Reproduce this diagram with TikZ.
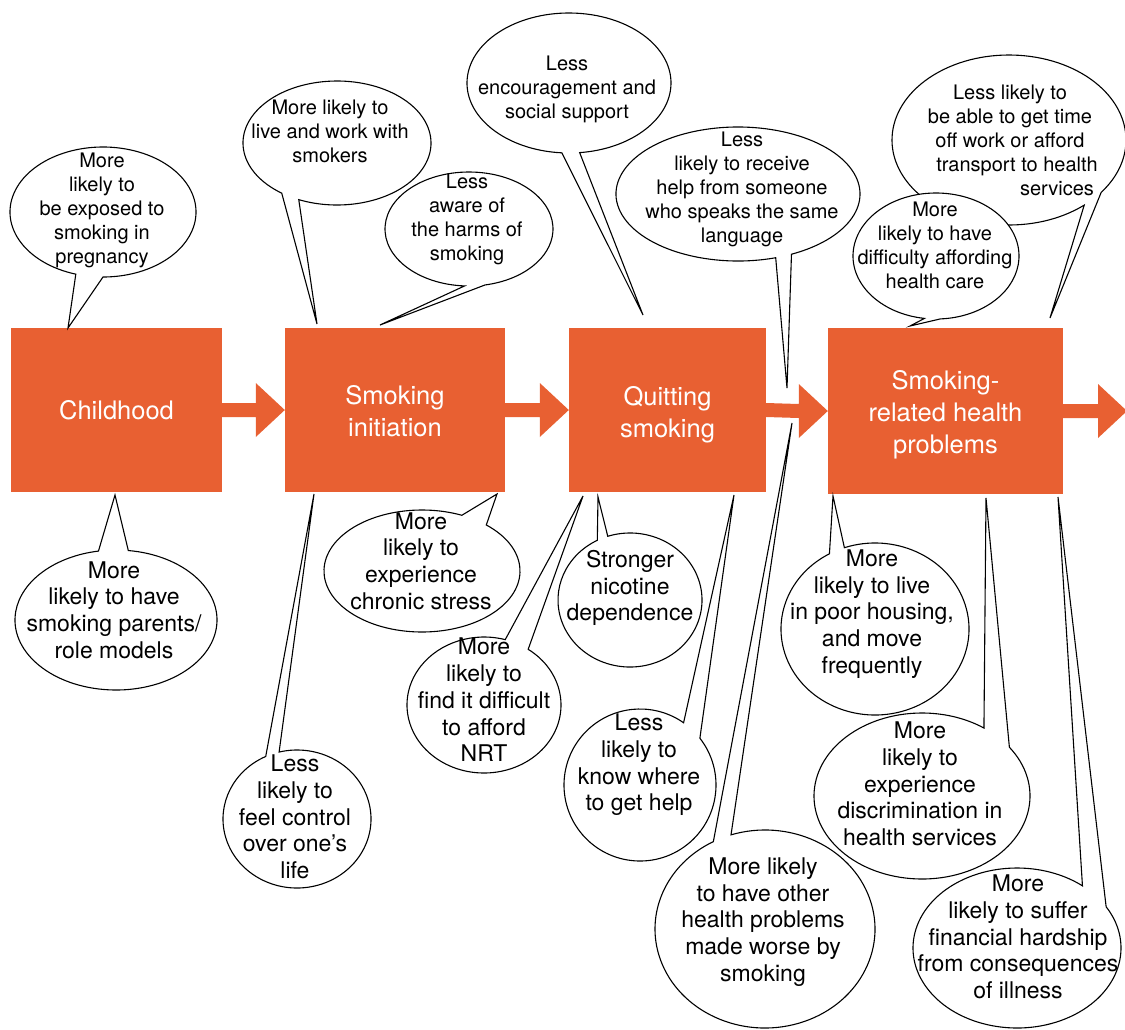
\documentclass[tikz,border=0pt]{standalone}
\usepackage{fontspec}
\setmainfont{TeX Gyre Heros}
\usetikzlibrary{calc}
\definecolor{org}{RGB}{232,96,50}
\tikzset{
  box/.style={fill=org, draw=none, inner sep=0pt},
  boxtxt/.style={text=white, align=center, inner sep=0pt, font=\fontsize{25.5}{32}\selectfont},
  bubble/.style={draw=black, fill=white, line width=1.1pt, line join=miter},
  stxt/.style={align=center, inner sep=0pt, font=\fontsize{20}{24}\selectfont},
  ltxt/.style={align=center, inner sep=0pt, font=\fontsize{23}{26.7}\selectfont},
  flow/.style={fill=org, draw=none}
}
% #1 tip coordinate, #2 cx, #3 cy, #4 rx, #5 ry, #6 first base angle, #7 second base angle
\newcommand\bubbleshape[7]{%
  \filldraw[bubble] ($(#2,#3)+(#6:#4 and #5)$) -- (#1) -- ($(#2,#3)+(#7:#4 and #5)$)
    arc[start angle=#7, end angle={#6+360}, x radius=#4, y radius=#5] -- cycle;}
% #1 source node, #2 target point
\newcommand\flowarrow[2]{%
  \fill[flow] ($(#1.east)+(0,-7)$) -- ($(#2)+(-29,-7)$) -- ($(#2)+(-29,-27)$) -- (#2)
    -- ($(#2)+(-29,27)$) -- ($(#2)+(-29,7)$) -- ($(#1.east)+(0,7)$) -- cycle;}
\begin{document}
\begin{tikzpicture}[x=1pt,y=-1pt]
\useasboundingbox (0,0) rectangle (1125,1029);
\fill[white] (0,0) rectangle (1125,1029);

% stage boxes
\node[box, minimum width=211pt, minimum height=164pt] (child) at (116.5,410) {};
\node[box, minimum width=220pt, minimum height=164pt] (init) at (395,410) {};
\node[box, minimum width=197pt, minimum height=164pt] (quit) at (667.5,410) {};
\node[box, minimum width=235pt, minimum height=166pt] (health) at (945.5,411) {};
\node[boxtxt] (childtxt) at (116.5,410) {Childhood};
\node[boxtxt] (inittxt) at (395,411) {Smoking\\initiation};
\node[boxtxt] (quittxt) at (667.5,415) {Quitting\\smoking};
\node[boxtxt] (healthtxt) at (945.5,415) {Smoking-\\related health\\problems};
\coordinate (out) at (1127,411);

\flowarrow{child}{init.west}
\flowarrow{init}{quit.west}
\flowarrow{quit}{health.west}
\flowarrow{health}{out}

% tail tips
\coordinate (p1) at (68,328);
\coordinate (p2) at (115,495);
\coordinate (p3) at (317,324);
\coordinate (p4) at (380,325);
\coordinate (p5) at (497,494);
\coordinate (p6) at (314,494);
\coordinate (p7) at (643,315);
\coordinate (p8) at (787,388);
\coordinate (p9) at (583,496);
\coordinate (p10) at (598,497);
\coordinate (p11) at (734,495);
\coordinate (p12) at (792,423);
\coordinate (p13) at (1050,318);
\coordinate (p14) at (910,326);
\coordinate (p15) at (833,496);
\coordinate (p16) at (986,498);
\coordinate (p17) at (1058,497);

% bubbles
\bubbleshape{p1}{103}{212}{93}{65}{90}{107}
\bubbleshape{p2}{116}{620}{101}{70}{260}{277}
\bubbleshape{p3}{337}{143}{94}{62}{114}{126}
\bubbleshape{p4}{469}{229}{84}{57}{79}{93}
\bubbleshape{p5}{422}{571}{98}{61}{294}{311}
\bubbleshape{p6}{297}{819}{74}{69}{245}{256}
\bubbleshape{p7}{569}{83}{102}{70}{84}{94}
\bubbleshape{p8}{738}{194}{122}{67}{64}{72}
\bubbleshape{p13}{1009}{140}{117}{85}{38}{50}
\bubbleshape{p14}{936}{256}{83}{63}{87}{98}
\bubbleshape{p9}{484}{705}{77}{68}{286}{305}
\bubbleshape{p10}{630}{600}{72}{67}{243}{252}
\bubbleshape{p11}{640}{785}{76}{76}{305}{322}
\bubbleshape{p12}{765}{929}{110}{99}{242}{252}
\bubbleshape{p15}{875}{629}{94}{86}{241}{251}
\bubbleshape{p16}{922}{796}{108}{83}{305}{324}
\bubbleshape{p17}{1017}{948}{104}{80}{309}{329}

% bubble texts
\node[stxt] (t1) at (102,210) {More\\likely to\\be exposed to\\smoking in\\pregnancy};
\node[ltxt] (t2) at (114,610) {More\\likely to have\\smoking parents/\\role models};
\node[stxt] (t3) at (330,131) {More likely to\\live and work with\\smokers};
\node[stxt] (t4) at (467,219) {Less\\aware of\\the harms of\\smoking};
\node[ltxt] (t5) at (421,561) {More\\likely to\\experience\\chronic stress};
\node[ltxt] (t6) at (295,817) {Less\\likely to\\feel control\\over one’s\\life};
\node[stxt] (t7) at (567,89) {Less\\encouragement and\\social support};
\node[stxt] (t8) at (742,189) {Less\\likely to receive\\help from someone\\who speaks the same\\language};
\node[stxt] (t13) at (1010,140) {Less likely to\\be able to get time\\off work or afford\\\hspace*{14pt}transport to health\\\hspace*{94pt}services};
\node[stxt] (t14) at (935,245) {More\\likely to have\\difficulty affording\\health care};
\node[ltxt] (t9) at (484,700) {More\\likely to\\find it difficult\\to afford\\NRT};
\node[ltxt] (t10) at (630,588) {Stronger\\nicotine\\dependence};
\node[ltxt] (t11) at (639,765) {Less\\likely to\\know where\\to get help};
\node[ltxt] (t12) at (763,922) {More likely\\to have other\\health problems\\made worse by\\smoking};
\node[ltxt] (t15) at (872,614) {More\\likely to live\\in poor housing,\\and move\\frequently};
\node[ltxt] (t16) at (920,784) {More\\likely to\\experience\\discrimination in\\health services};
\node[ltxt] (t17) at (1018,937) {More\\likely to suffer\\financial hardship\\from consequences\\of illness};
\end{tikzpicture}
\end{document}
